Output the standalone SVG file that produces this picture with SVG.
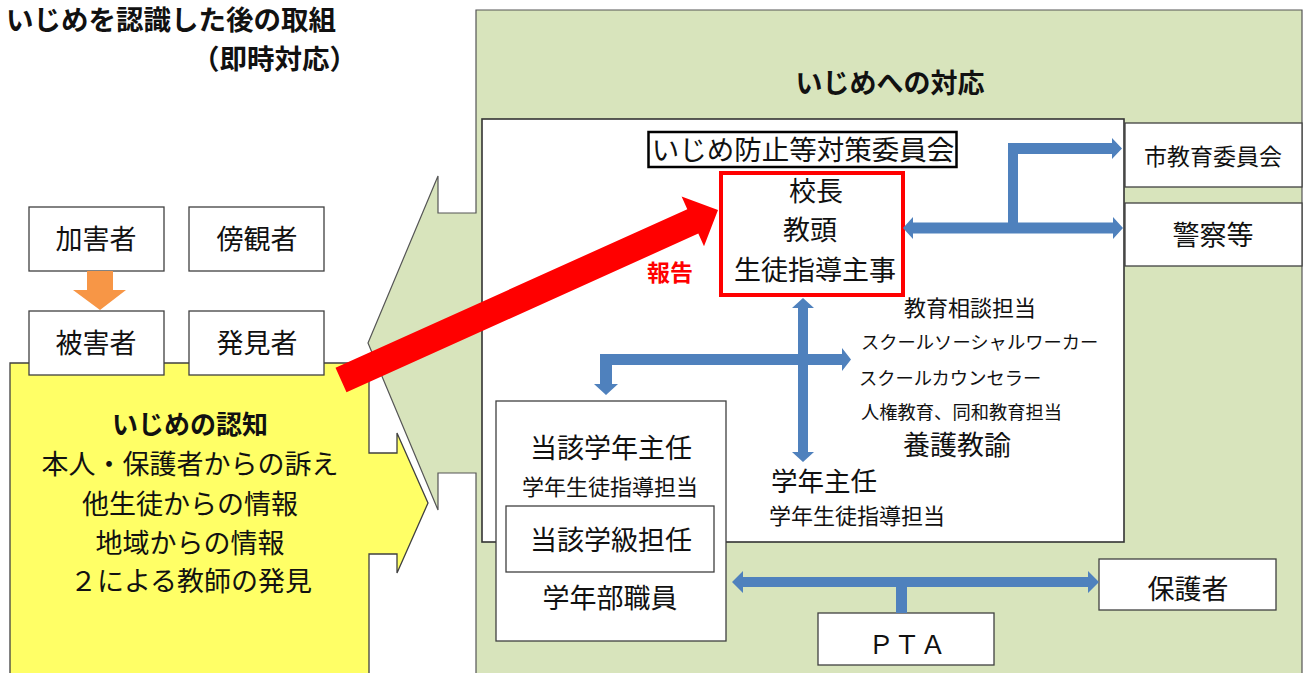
<svg xmlns="http://www.w3.org/2000/svg" width="1309" height="673" viewBox="0 0 1309 673">
<style>
text{font-family:"Noto Sans CJK JP","Noto Sans CJK SC",sans-serif;fill:#111;}
.b{font-weight:bold;}
.c{text-anchor:middle;}
.f27{font-size:27px;}
.f22{font-size:22px;}
.f18{font-size:18.3px;}
.box{fill:#fff;stroke:#404040;stroke-width:1.3;}
.blue{fill:#4F81BD;}
</style>
<rect width="1309" height="673" fill="#fff"/>

<g id="title">
<text class="b" x="6" y="30" style="font-size:27.5px">いじめを認識した後の取組</text>
<text class="b" x="192" y="69" style="font-size:27.5px">（即時対応）</text>
</g>

<g id="response-area">
<polygon points="476,10 1302,10 1302,690 476,690 476,473 438,473 438,510 368,343 438,176 438,213 476,213" fill="#D8E4BC" stroke="#555" stroke-width="1.2"/>
<text class="b c" x="890" y="93" style="font-size:27px">いじめへの対応</text>
<rect x="482" y="119" width="642" height="423" fill="#fff" stroke="#333" stroke-width="1.6"/>
</g>

<g id="recognition">
<polygon points="10,363 369,363 369,453 397,453 397,433 428,503 397,573 397,554 369,554 369,690 10,690" fill="#FFFF66" stroke="#404040" stroke-width="1.3"/>
<text class="b c" x="190" y="434" style="font-size:26px">いじめの認知</text>
<text class="c f27" x="190" y="474">本人・保護者からの訴え</text>
<text class="c f27" x="190" y="514">他生徒からの情報</text>
<text class="c f27" x="190" y="553">地域からの情報</text>
<text class="c f27" x="191" y="591">２による教師の発見</text>
</g>

<g id="kagaisha"><rect class="box" x="29" y="207" width="135" height="64"/><text class="c f27" x="96" y="249">加害者</text></g>
<g id="boukansha"><rect class="box" x="189" y="207" width="135" height="64"/><text class="c f27" x="257" y="249">傍観者</text></g>
<g id="higaisha"><rect class="box" x="29" y="311" width="135" height="64"/><text class="c f27" x="96" y="353">被害者</text></g>
<g id="hakkensha"><rect class="box" x="189" y="311" width="135" height="64"/><text class="c f27" x="257" y="353">発見者</text></g>

<g id="committee">
<rect x="648.5" y="132" width="308" height="35" fill="#fff" stroke="#000" stroke-width="2.5"/>
<text class="c" x="803" y="160" style="font-size:27.5px">いじめ防止等対策委員会</text>
</g>

<g id="core-members">
<rect x="721" y="173" width="182" height="122" fill="#fff" stroke="#FF0000" stroke-width="4"/>
<text class="c f27" x="816" y="201">校長</text>
<text class="c f27" x="810" y="240">教頭</text>
<text class="c f27" x="815" y="280">生徒指導主事</text>
</g>

<g id="city-board"><rect class="box" x="1125" y="123" width="177" height="64"/><text class="c" x="1213" y="165" style="font-size:23px">市教育委員会</text></g>
<g id="police"><rect class="box" x="1125" y="203" width="177" height="63"/><text class="c f27" x="1213" y="245">警察等</text></g>

<g id="staff">
<text class="c f22" x="970" y="316">教育相談担当</text>
<text class="f18" x="861" y="349">スクールソーシャルワーカー</text>
<text class="f18" x="859" y="385">スクールカウンセラー</text>
<text class="f18" x="861" y="419">人権教育、同和教育担当</text>
<text class="c f27" x="957" y="455">養護教諭</text>
</g>

<g id="grade-head">
<text x="771" y="491" style="font-size:26.5px">学年主任</text>
<text class="f22" x="769" y="524">学年生徒指導担当</text>
</g>

<g id="grade-team">
<rect class="box" x="496" y="401" width="230" height="240"/>
<text class="c f27" x="611" y="458">当該学年主任</text>
<text class="c f22" x="610" y="495">学年生徒指導担当</text>
<rect class="box" x="506" y="506" width="208" height="66"/>
<text class="c f27" x="611" y="550">当該学級担任</text>
<text class="c f27" x="610" y="608">学年部職員</text>
</g>

<g id="pta"><rect class="box" x="818" y="613" width="176" height="52"/><text class="c" x="907" y="654" style="font-size:26px">ＰＴＡ</text></g>
<g id="guardians"><rect class="box" x="1099" y="559" width="177" height="51"/><text class="c f27" x="1188" y="599">保護者</text></g>

<g id="connectors">
<polygon fill="#F79646" points="87,271 113,271 113,290 126,290 100,310 73,290 87,290"/>
<polygon class="blue" points="903,228 913,217 913,222.5 1113,222.5 1113,217 1123,228 1113,239 1113,233.5 913,233.5 913,239"/>
<polygon class="blue" points="1008,228 1008,143 1112,143 1112,138 1122,148.5 1112,159 1112,154 1018,154 1018,228"/>
<polygon class="blue" points="803,298 814,308 808,308 808,452 814,452 803,462 792,452 798,452 798,308 792,308"/>
<polygon class="blue" points="600,354 842,354 842,348 851,359.5 842,371 842,365 612,365 612,384 618,384 606,395 594,384 600,384"/>
<polygon class="blue" points="732,582 743,571 743,577 1088,577 1088,571 1099,582 1088,593 1088,587 743,587 743,593"/>
<rect class="blue" x="896" y="582" width="11" height="31"/>
<polygon fill="#FF0000" points="335.5,367.8 687.3,209.2 681.6,196.5 718,210 704,246.3 698.3,233.6 346.5,392.2"/>
<text class="b c" x="670" y="281" style="font-size:23px;fill:#FF0000">報告</text>
</g>
</svg>
